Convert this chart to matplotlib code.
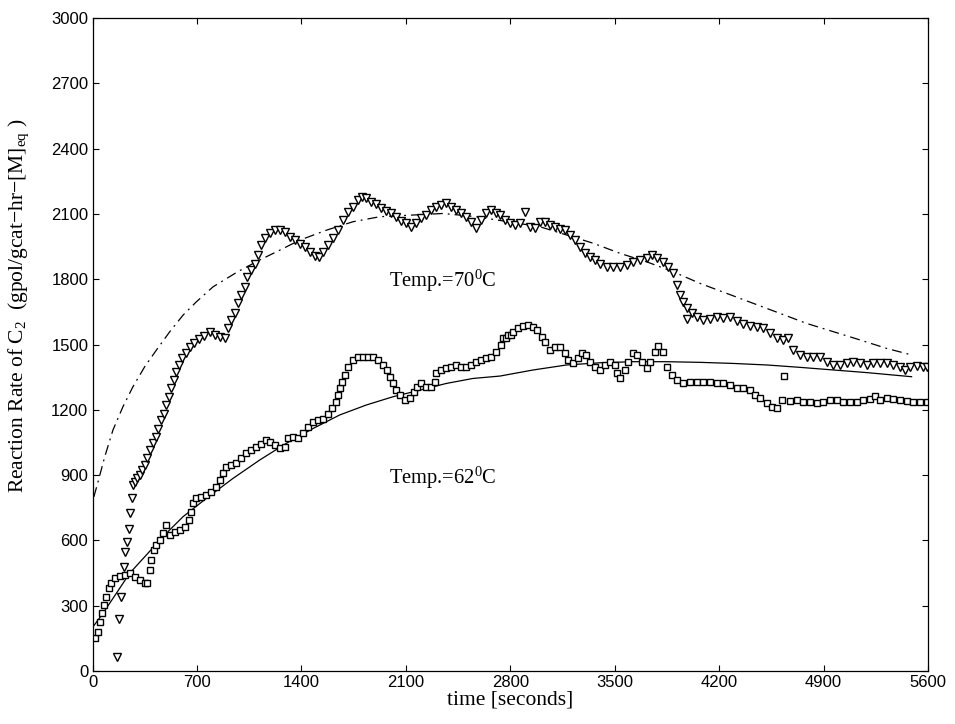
import matplotlib
matplotlib.use("Agg")
import matplotlib.pyplot as plt

# 70 C measured data (triangles)
t70 = [164, 178, 193, 211, 220, 233, 242, 251, 267, 271, 287, 300, 316, 334, 350, 365, 388, 405,
       423, 439, 461, 479, 495, 513, 528, 544, 562, 580, 602, 624, 651, 680, 714, 747, 785, 819,
       852, 886, 908, 930, 953, 975, 997, 1020, 1038, 1064, 1087, 1109, 1132, 1154, 1187, 1221,
       1254, 1288, 1321, 1355, 1388, 1422, 1455, 1489, 1518, 1545, 1578, 1612, 1645, 1679, 1712,
       1746, 1779, 1808, 1835, 1869, 1902, 1936, 1969, 2003, 2036, 2070, 2103, 2137, 2170, 2204,
       2237, 2271, 2304, 2338, 2371, 2405, 2438, 2472, 2505, 2539, 2572, 2606, 2640, 2673, 2707,
       2731, 2765, 2798, 2832, 2865, 2899, 2932, 2966, 2999, 3033, 3066, 3100, 3133, 3167, 3200,
       3234, 3267, 3301, 3334, 3368, 3401, 3446, 3491, 3535, 3580, 3625, 3669, 3714, 3747, 3781,
       3826, 3859, 3893, 3915, 3937, 3960, 3982, 3987, 4016, 4049, 4094, 4138, 4183, 4228, 4273,
       4317, 4362, 4407, 4451, 4496, 4541, 4585, 4630, 4663, 4697, 4742, 4786, 4831, 4876, 4920,
       4965, 5010, 5054, 5099, 5144, 5188, 5233, 5278, 5323, 5367, 5412, 5445, 5479, 5524, 5568,
       5595]
r70 = [66, 237, 341, 479, 548, 594, 651, 724, 793, 854, 869, 885, 900, 923, 946, 977, 1015, 1046,
       1076, 1114, 1153, 1183, 1222, 1260, 1298, 1336, 1375, 1405, 1436, 1459, 1490, 1508, 1523,
       1539, 1558, 1543, 1535, 1528, 1574, 1612, 1643, 1689, 1727, 1765, 1811, 1842, 1872, 1911,
       1956, 1987, 2010, 2025, 2028, 2018, 1995, 1979, 1964, 1949, 1926, 1906, 1900, 1926, 1956,
       1987, 2025, 2071, 2110, 2133, 2163, 2178, 2171, 2155, 2145, 2129, 2114, 2102, 2087, 2068,
       2056, 2041, 2056, 2079, 2094, 2117, 2133, 2140, 2148, 2133, 2117, 2102, 2087, 2064, 2033,
       2071, 2102, 2117, 2102, 2095, 2072, 2056, 2049, 2056, 2110, 2041, 2033, 2064, 2064, 2049,
       2041, 2029, 2026, 2003, 1980, 1949, 1919, 1903, 1888, 1870, 1854, 1854, 1854, 1865, 1880,
       1888, 1896, 1911, 1896, 1880, 1857, 1827, 1773, 1727, 1697, 1666, 1615, 1643, 1628, 1612,
       1615, 1628, 1620, 1628, 1609, 1594, 1585, 1579, 1574, 1551, 1528, 1521, 1528, 1475, 1452,
       1444, 1444, 1444, 1421, 1406, 1406, 1413, 1421, 1413, 1406, 1413, 1413, 1413, 1406, 1398,
       1383, 1398, 1401, 1398, 1395]

# 62 C measured data (squares)
t62 = [14, 37, 52, 66, 77, 93, 111, 126, 149, 182, 216, 249, 283, 316, 350, 367, 383, 394, 412,
       428, 450, 472, 495, 517, 551, 584, 618, 647, 662, 674, 696, 729, 763, 796, 830, 852, 875,
       897, 930, 964, 997, 1031, 1065, 1098, 1132, 1161, 1187, 1221, 1254, 1288, 1310, 1344, 1377,
       1411, 1444, 1478, 1511, 1545, 1578, 1607, 1630, 1645, 1656, 1674, 1690, 1712, 1746, 1779,
       1813, 1846, 1880, 1913, 1947, 1974, 1996, 2014, 2036, 2063, 2092, 2126, 2152, 2175, 2204,
       2237, 2271, 2293, 2304, 2338, 2371, 2405, 2438, 2472, 2505, 2539, 2572, 2606, 2640, 2673,
       2707, 2740, 2753, 2774, 2787, 2807, 2820, 2854, 2887, 2921, 2954, 2977, 3010, 3033, 3066,
       3100, 3133, 3167, 3189, 3222, 3256, 3278, 3307, 3334, 3368, 3401, 3435, 3468, 3502, 3517,
       3535, 3569, 3591, 3625, 3647, 3681, 3714, 3736, 3770, 3792, 3826, 3852, 3881, 3915, 3960,
       4004, 4049, 4094, 4138, 4183, 4228, 4273, 4317, 4362, 4407, 4440, 4474, 4518, 4552, 4585,
       4619, 4637, 4675, 4719, 4764, 4809, 4853, 4898, 4943, 4987, 5032, 5077, 5121, 5166, 5211,
       5244, 5278, 5323, 5367, 5412, 5456, 5501, 5546, 5590]
r62 = [150, 181, 227, 265, 303, 341, 380, 403, 426, 436, 441, 449, 433, 418, 406, 403, 464, 510,
       556, 579, 602, 632, 671, 625, 640, 647, 663, 693, 732, 770, 793, 801, 808, 824, 846, 877,
       908, 938, 946, 954, 977, 1000, 1015, 1030, 1045, 1061, 1053, 1038, 1023, 1030, 1069, 1076,
       1069, 1092, 1122, 1145, 1153, 1160, 1183, 1206, 1237, 1268, 1298, 1329, 1359, 1398, 1428,
       1444, 1444, 1444, 1444, 1428, 1405, 1382, 1352, 1321, 1291, 1268, 1245, 1252, 1283, 1306,
       1321, 1306, 1306, 1329, 1367, 1382, 1390, 1398, 1405, 1398, 1398, 1405, 1421, 1428, 1436,
       1444, 1467, 1497, 1528, 1528, 1544, 1543, 1559, 1574, 1585, 1589, 1582, 1567, 1536, 1513,
       1475, 1490, 1490, 1459, 1429, 1413, 1436, 1459, 1452, 1421, 1398, 1383, 1406, 1421, 1406,
       1367, 1344, 1383, 1421, 1459, 1452, 1421, 1390, 1421, 1467, 1493, 1467, 1398, 1360, 1337,
       1322, 1329, 1329, 1329, 1329, 1322, 1322, 1314, 1299, 1299, 1291, 1268, 1253, 1230, 1214,
       1207, 1245, 1355, 1242, 1245, 1237, 1237, 1230, 1237, 1245, 1245, 1237, 1237, 1237, 1245,
       1248, 1263, 1245, 1253, 1248, 1245, 1242, 1237, 1237, 1237]

# model curves
tm70 = [0, 3, 37, 82, 137, 204, 271, 350, 428, 517, 607, 696, 808, 975, 1120, 1254, 1388, 1567,
        1746, 1925, 2126, 2349, 2572, 2999, 3178, 3357, 3535, 3714, 3893, 4071, 4250, 4429, 4608,
        4786, 4965, 5144, 5323, 5490]
rm70 = [700, 785, 869, 984, 1107, 1214, 1306, 1398, 1474, 1558, 1635, 1696, 1765, 1835, 1888,
        1933, 1979, 2025, 2064, 2087, 2094, 2102, 2087, 2041, 2003, 1965, 1919, 1880, 1834, 1781,
        1735, 1689, 1643, 1597, 1559, 1521, 1482, 1452]
tm62 = [0, 70, 160, 249, 361, 472, 607, 763, 942, 1120, 1299, 1478, 1656, 1835, 2014, 2193, 2371,
        2550, 2731, 2954, 3178, 3401, 3625, 3848, 4071, 4295, 4518, 4742, 4965, 5188, 5490]
rm62 = [200, 265, 357, 449, 533, 617, 709, 793, 885, 969, 1046, 1114, 1176, 1222, 1260, 1290, 1321,
        1344, 1355, 1383, 1406, 1416, 1421, 1421, 1418, 1413, 1406, 1395, 1383, 1371, 1352]

xticks = [0, 700, 1400, 2100, 2800, 3500, 4200, 4900, 5600]
yticks = [0, 300, 600, 900, 1200, 1500, 1800, 2100, 2400, 2700, 3000]

serif = ['Liberation Serif', 'DejaVu Serif']
sans = ['Liberation Sans', 'DejaVu Sans']
plt.rcParams['mathtext.fontset'] = 'custom'
plt.rcParams['mathtext.rm'] = 'Liberation Serif'
plt.rcParams['mathtext.it'] = 'Liberation Serif:italic'

fig = plt.figure(figsize=(9.55, 7.24), dpi=100)
ax = fig.add_axes([92.5 / 955, 1 - 671 / 724, (928 - 92.5) / 955, (671 - 18) / 724])

ax.plot(tm70, rm70, color='black', lw=0.9, linestyle=(0, (8, 4, 1.5, 4)))
ax.plot(tm62, rm62, color='black', lw=0.9, linestyle='-')
ax.plot(t70, r70, linestyle='none', marker='v', markersize=6, markerfacecolor='white',
        markeredgecolor='black', markeredgewidth=1.0)
ax.plot(t62, r62, linestyle='none', marker='s', markersize=4.8, markerfacecolor='white',
        markeredgecolor='black', markeredgewidth=1.0)

ax.text(1990, 1790, r'Temp.=70$^0$C', family=serif, fontsize=14.8, va='center', ha='left')
ax.text(1990, 887, r'Temp.=62$^0$C', family=serif, fontsize=14.8, va='center', ha='left')

ax.set_xlim(0, 5600)
ax.set_ylim(0, 3000)
ax.set_xticks(xticks)
ax.set_yticks(yticks)
ax.set_xticklabels([str(v) for v in xticks], family=sans, fontsize=12)
ax.set_yticklabels([str(v) for v in yticks], family=sans, fontsize=12)
ax.tick_params(direction='in', top=True, right=True, length=4, width=0.8, pad=3)
for s in ax.spines.values():
    s.set_linewidth(0.9)

ax.set_xlabel('time [seconds]', family=serif, fontsize=15.5, labelpad=0)
ax.set_ylabel(r'Reaction Rate of C$_2$  (gpol/gcat$-$hr$-$[M]$_{\rm eq}$ )', family=serif,
              fontsize=15.5)
ax.yaxis.set_label_coords(-0.074, 0.56)

fig.savefig('out.png', dpi=100)
